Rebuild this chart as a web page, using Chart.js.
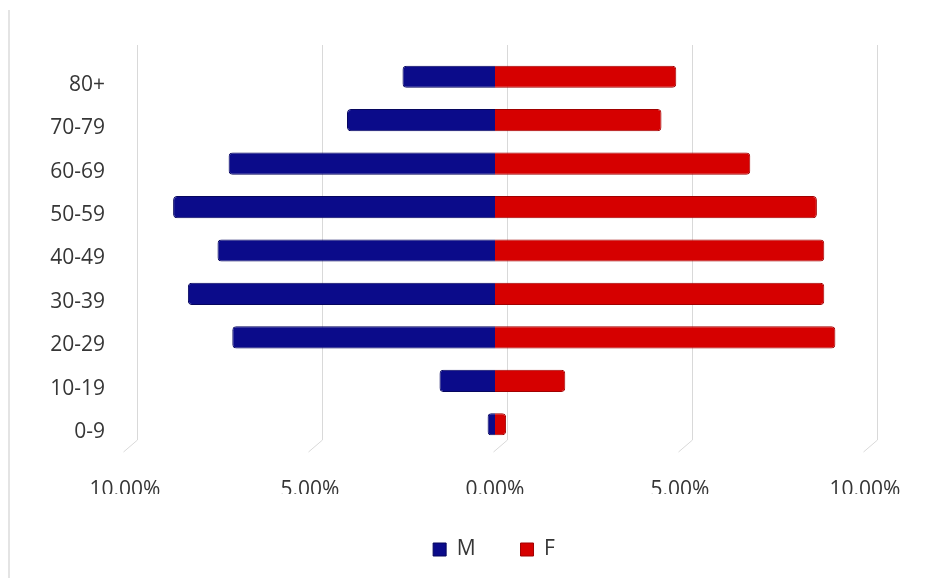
<!DOCTYPE html>
<html>
<head>
<meta charset="utf-8">
<style>
  html, body { margin: 0; padding: 0; background: #ffffff; }
  #wrap { position: relative; width: 952px; height: 578px; }
  #edge { position: absolute; left: 8px; top: 10px; width: 2px; height: 568px; background: #e4e4e4; }
  canvas { position: absolute; left: 0; top: 0; }
</style>
<script src="https://cdn.jsdelivr.net/npm/chart.js@4"></script>
</head>
<body>
<div id="wrap">
  <div id="edge"></div>
  <canvas id="pyramid" width="952" height="578"></canvas>
</div>
<script>
// Age groups, top of the pyramid first
const ageGroups = ['80+', '70-79', '60-69', '50-59', '40-49', '30-39', '20-29', '10-19', '0-9'];
// Share of population (%) per age group
const maleShare   = [2.5, 4.0, 7.2, 8.7, 7.5, 8.3, 7.1, 1.5, 0.2];
const femaleShare = [4.9, 4.5, 6.9, 8.7, 8.9, 8.9, 9.2, 1.9, 0.3];
// Axis ticks (%)
const axisTicks = [-10, -5, 0, 5, 10];

const textColor = '#363636';
const fontFamily = '"Open Sans", "Noto Sans", sans-serif';

// Vertical guide lines drawn on the back wall, with a short slanted foot
const backWallGrid = {
  id: 'backWallGrid',
  beforeDatasetsDraw(chart) {
    const { ctx, chartArea, scales } = chart;
    const depth = 12;
    ctx.save();
    ctx.strokeStyle = '#d9d9d9';
    ctx.lineWidth = 1;
    axisTicks.forEach(v => {
      const x = Math.round(scales.x.getPixelForValue(v) + depth) + 0.5;
      const top = chartArea.top - 10;
      const foot = chartArea.bottom - 6;
      ctx.beginPath();
      ctx.moveTo(x, top);
      ctx.lineTo(x, foot);
      ctx.lineTo(x - depth - 2, foot + 12);
      ctx.stroke();
    });
    ctx.restore();
  }
};

new Chart(document.getElementById('pyramid'), {
  type: 'bar',
  data: {
    labels: ageGroups,
    datasets: [
      {
        label: 'M',
        data: maleShare.map(v => -v),
        backgroundColor: '#0b0b8a',
        borderColor: '#06065e',
        borderWidth: 1,
        borderRadius: 4,
        borderSkipped: 'start'
      },
      {
        label: 'F',
        data: femaleShare,
        backgroundColor: '#d60000',
        borderColor: '#a00000',
        borderWidth: 1,
        borderRadius: 4,
        borderSkipped: 'start'
      }
    ]
  },
  options: {
    indexAxis: 'y',
    responsive: false,
    animation: false,
    layout: { padding: { left: 36, right: 0, top: 55, bottom: 8 } },
    datasets: {
      bar: { categoryPercentage: 1.0, barPercentage: 0.51 }
    },
    scales: {
      x: {
        stacked: true,
        min: -10,
        max: 10,
        grid: { display: false, drawTicks: false },
        border: { display: false },
        afterBuildTicks(scale) {
          scale.ticks = axisTicks.map(v => ({ value: v }));
        },
        afterFit(scale) { scale.height = 48; },
        ticks: {
          padding: 31,
          color: textColor,
          font: { family: fontFamily, size: 21 },
          callback: v => Math.abs(v).toFixed(2) + '%'
        }
      },
      y: {
        stacked: true,
        grid: { display: false, drawTicks: false },
        border: { display: false },
        afterFit(scale) { scale.width = 89; },
        ticks: {
          padding: 20,
          labelOffset: 8,
          color: textColor,
          font: { family: fontFamily, size: 21 }
        }
      },
      // empty right-hand margin beside the plot
      yRight: {
        type: 'category',
        position: 'right',
        grid: { display: false, drawTicks: false },
        border: { display: false },
        ticks: { display: false },
        afterFit(scale) { scale.width = 87; }
      }
    },
    plugins: {
      legend: {
        position: 'bottom',
        labels: {
          boxWidth: 13,
          boxHeight: 13,
          padding: 45,
          color: textColor,
          font: { family: fontFamily, size: 21 }
        }
      },
      tooltip: { enabled: false }
    }
  },
  plugins: [backWallGrid]
});
</script>
</body>
</html>
